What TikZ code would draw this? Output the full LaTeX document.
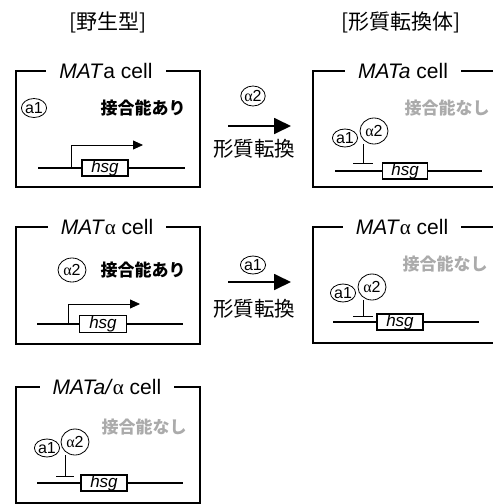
\documentclass[tikz,border=0pt]{standalone}
\usepackage{fontspec}
\setmainfont{Liberation Sans}
\newfontfamily\jp{Noto Sans CJK JP}
\newfontfamily\grk{Liberation Serif}
\usetikzlibrary{arrows.meta,shapes.geometric}
\newcommand{\alp}{{\grk\upshape α}}
\begin{document}
\begin{tikzpicture}[x=1pt,y=-1pt,
  cellbox/.style={line width=1.8pt},
  ttl/.style={fill=white,inner xsep=13pt,inner ysep=0pt,font=\fontsize{21}{21}\selectfont},
  head/.style={font=\jp\fontsize{21}{21}\selectfont},
  yes/.style={font=\jp\bfseries\fontsize{17}{17}\selectfont},
  no/.style={font=\jp\bfseries\fontsize{17}{17}\selectfont,text=black!33},
  prot/.style={ellipse,draw,line width=0.8pt,fill=white,inner sep=0pt,font=\fontsize{16}{16}\selectfont},
  pa/.style={prot,minimum width=25pt,minimum height=18pt},
  pb/.style={prot,minimum width=28pt,minimum height=26pt},
  gline/.style={line width=1.8pt},
  gene/.style={draw,line width=1.6pt,fill=white,minimum width=46pt,minimum height=16pt,inner sep=0pt,font=\itshape\fontsize{17}{17}\selectfont},
  prom/.style={line width=0.8pt,-{Triangle[length=10pt,width=9pt]}},
  rep/.style={line width=0.8pt},
  big/.style={line width=1.8pt,-{Triangle[length=17pt,width=16pt]}},
  tr/.style={font=\jp\fontsize{20.5}{20.5}\selectfont}
]
\useasboundingbox (0,0) rectangle (493,504);

% headings
\node[head] (h1) at (108,22) {[野生型]};
\node[head] (h2) at (401,22) {[形質転換体]};

% ---- box 1: MATa wild type
\draw[cellbox] (16,71) rectangle (200,187);
\node[ttl] (t1) at (106,71) {\textit{MAT}a cell};
\node[prot,minimum width=21pt,minimum height=19pt] (b1a1) at (34,108) {a1};
\node[yes] (b1y) at (143,108) {接合能あり};
\coordinate (g1l) at (38,168);
\coordinate (g1r) at (185,168);
\draw[gline] (g1l) -- (g1r);
\node[gene] (g1) at (105,168) {hsg};
\coordinate (p1) at (71,167);
\coordinate (p1e) at (143,145);
\draw[prom] (p1) |- (p1e);

% ---- arrow 1
\node[prot,minimum width=24pt,minimum height=20pt] (m1) at (253,96) {\alp2};
\coordinate (a1s) at (228,126);
\coordinate (a1e) at (291,126);
\draw[big] (a1s) -- (a1e);
\node[tr] (m1t) at (254,149) {形質転換};

% ---- box 2: MATa transformant
\draw[cellbox] (494,71) -- (313,71) -- (313,187) -- (494,187);
\node[ttl] (t2) at (403,71) {\textit{MATa} cell};
\node[no] (b2n) at (447,108) {接合能なし};
\coordinate (g2l) at (335,171);
\coordinate (g2r) at (482,171);
\draw[gline] (g2l) -- (g2r);
\node[gene,minimum width=45pt,minimum height=15pt] (g2) at (405,171) {hsg};
\node[pa] (b2a1) at (345,138) {a1};
\node[pb] (b2a2) at (374,131) {\alp2};
\coordinate (r2) at (363,163);
\draw[rep] (r2 |- b2a2.south) -- (r2);
\draw[rep] ([xshift=-10pt]r2) -- ([xshift=10pt]r2);

% ---- arrow 2
\node[prot,minimum width=25pt,minimum height=18pt] (m2) at (253,265) {a1};
\coordinate (a2s) at (228,282);
\coordinate (a2e) at (291,282);
\draw[big] (a2s) -- (a2e);
\node[tr] (m2t) at (254,309) {形質転換};

% ---- box 3: MATalpha wild type
\draw[cellbox] (16,227) rectangle (200,344);
\node[ttl] (t3) at (107,227) {\textit{MAT}\alp\ cell};
\node[prot,minimum width=28pt,minimum height=24pt] (b3a2) at (72,270) {\alp2};
\node[yes] (b3y) at (143,270) {接合能あり};
\coordinate (g3l) at (37,324);
\coordinate (g3r) at (183,324);
\draw[gline] (g3l) -- (g3r);
\node[gene,minimum width=47pt,minimum height=17pt] (g3) at (103,324) {hsg};
\coordinate (p3) at (68,323);
\coordinate (p3e) at (140,304);
\draw[prom] (p3) |- (p3e);

% ---- box 4: MATalpha transformant
\draw[cellbox] (494,227) -- (313,227) -- (313,343) -- (494,343);
\node[ttl] (t4) at (402,227) {\textit{MAT}\alp\ cell};
\node[no] (b4n) at (445,264) {接合能なし};
\coordinate (g4l) at (333,322);
\coordinate (g4r) at (479,322);
\draw[gline] (g4l) -- (g4r);
\node[gene,minimum width=46pt,minimum height=15pt] (g4) at (400,322) {hsg};
\node[pa] (b4a1) at (343,293) {a1};
\node[pb] (b4a2) at (372,287) {\alp2};
\coordinate (r4) at (363,316);
\draw[rep] (r4 |- b4a2.south) -- (r4);
\draw[rep] ([xshift=-10pt]r4) -- ([xshift=10pt]r4);

% ---- box 5: MATa/alpha diploid
\draw[cellbox] (16,387) rectangle (200,503);
\node[ttl] (t5) at (107,387) {\textit{MATa/}\alp\ cell};
\node[no] (b5n) at (144,427) {接合能なし};
\coordinate (g5l) at (37,483);
\coordinate (g5r) at (183,483);
\draw[gline] (g5l) -- (g5r);
\node[gene] (g5) at (104,483) {hsg};
\node[pa] (b5a1) at (47,448) {a1};
\node[pb] (b5a2) at (75,442) {\alp2};
\coordinate (r5) at (65,476);
\draw[rep] (r5 |- b5a2.south) -- (r5);
\draw[rep] ([xshift=-9pt]r5) -- ([xshift=9pt]r5);
\end{tikzpicture}
\end{document}
